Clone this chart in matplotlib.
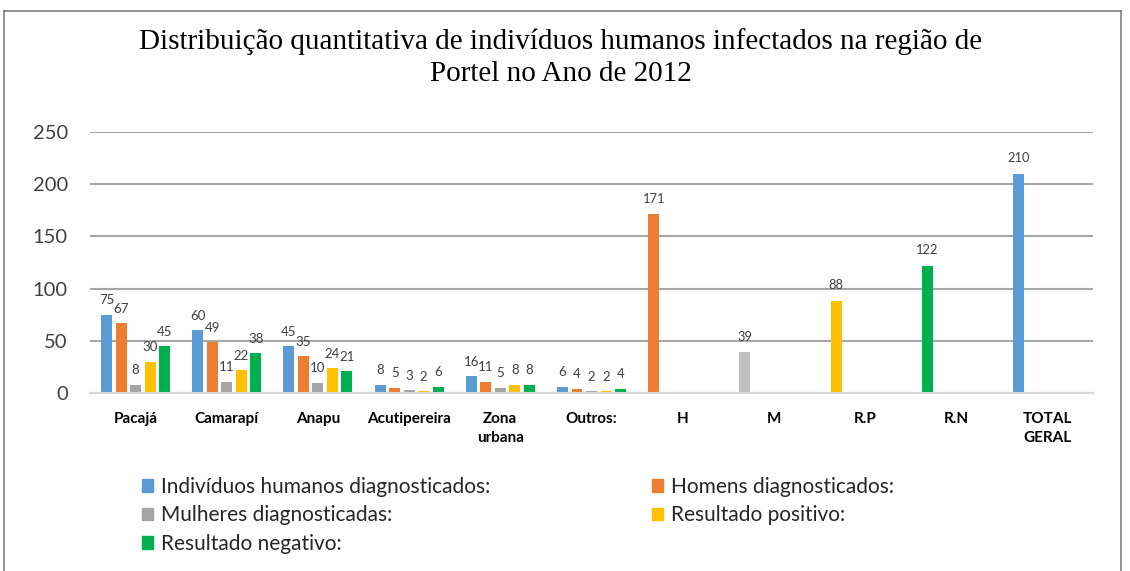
import matplotlib
matplotlib.use("Agg")
import matplotlib.pyplot as plt
from matplotlib.patches import Patch
from matplotlib.lines import Line2D
import numpy as np

title = "Distribuição quantitativa de indivíduos humanos infectados na região de\nPortel no Ano de 2012"

group_cats = ["Pacajá", "Camarapí", "Anapu", "Acutipereira", "Zona\nurbana", "Outros:"]
summary_cats = ["H", "M", "R.P", "R.N", "TOTAL\nGERAL"]

series_names = ["Indivíduos humanos diagnosticados:", "Homens diagnosticados:",
                "Mulheres diagnosticadas:", "Resultado positivo:", "Resultado negativo:"]
individuos = [75, 60, 45, 8, 16, 6]
homens = [67, 49, 35, 5, 11, 4]
mulheres = [8, 11, 10, 3, 5, 2]
positivo = [30, 22, 24, 2, 8, 2]
negativo = [45, 38, 21, 6, 8, 4]
summary_values = [171, 39, 88, 122, 210]

series_colors = ["#5B9BD5", "#ED7D31", "#A5A5A5", "#FFC000", "#00B050"]
summary_colors = ["#ED7D31", "#BFBFBF", "#FFC000", "#00B050", "#5B9BD5"]

W, H = 1130, 571
fig = plt.figure(figsize=(W / 100, H / 100), dpi=100)
ax = fig.add_axes([90 / W, 1 - 393 / H, (1093 - 90) / W, (393 - 132) / H])

label_font = ["Lato", "DejaVu Sans"]

pitch = 0.159
width = 0.12
all_series = [individuos, homens, mulheres, positivo, negativo]
gx = np.arange(len(group_cats))
for k, (vals, col) in enumerate(zip(all_series, series_colors)):
    xs = gx + (k - 2) * pitch
    bars = ax.bar(xs, vals, width=width, color=col, zorder=3)
    for b, v in zip(bars, vals):
        ax.annotate(str(v), (b.get_x() + b.get_width() / 2, v), xytext=(0, 6),
                    textcoords="offset points", ha="center", va="bottom",
                    fontsize=9.5, color="#404040", family=label_font)

sx = np.arange(len(group_cats), len(group_cats) + len(summary_cats))
sbars = ax.bar(sx - 2 * pitch, summary_values, width=width, color=summary_colors, zorder=3)
for b, v in zip(sbars, summary_values):
    ax.annotate(str(v), (b.get_x() + b.get_width() / 2, v), xytext=(0, 7),
                textcoords="offset points", ha="center", va="bottom",
                fontsize=9.3, color="#404040", family=label_font)

ax.set_xlim(-0.5, len(group_cats) + len(summary_cats) - 0.5)
ax.set_ylim(0, 250)
ax.set_yticks([0, 50, 100, 150, 200, 250])
ax.yaxis.grid(True, color="#A6A6A6", linewidth=1.5, zorder=0)
ax.set_axisbelow(True)
for s in ["top", "right", "left"]:
    ax.spines[s].set_visible(False)
ax.spines["bottom"].set_color("#D9D9D9")
ax.spines["bottom"].set_linewidth(1.5)
ax.spines["bottom"].set_zorder(4)
ax.tick_params(axis="both", length=0)
ax.tick_params(axis="y", pad=16, labelsize=14.5, labelcolor="#404040")
for t in ax.get_yticklabels():
    t.set_family(label_font)
ax.set_xticks(np.concatenate([gx, sx]))
ax.set_xticklabels(group_cats + summary_cats, fontsize=11, fontweight="bold",
                   family=label_font, va="top", linespacing=1.45)
ax.tick_params(axis="x", pad=14)
ax.set_facecolor("none")

fig.text(561 / W, 1 - 58 / H, title, ha="center", va="center", fontsize=21,
         family=["Liberation Serif", "DejaVu Serif"], linespacing=1.3)

# chart border
border = dict(color="#7F7F7F", linewidth=1.2, transform=fig.transFigure)
fig.add_artist(Line2D([4 / W, 4 / W], [0, 1 - 11 / H], **border))
fig.add_artist(Line2D([4 / W, 1121 / W], [1 - 11 / H, 1 - 11 / H], **border))
fig.add_artist(Line2D([1121 / W, 1121 / W], [0, 1 - 11 / H], **border))

handles = [Patch(color=c, label=n) for c, n in zip(series_colors, series_names)]
leg_kw = dict(frameon=False, handlelength=0.55, handleheight=0.55,
              handletextpad=0.35, labelspacing=0.4, borderaxespad=0, borderpad=0,
              prop={"family": label_font, "size": 15}, labelcolor="#262626")
l1 = fig.legend([handles[0], handles[2], handles[4]], [series_names[0], series_names[2], series_names[4]],
                loc="upper left", bbox_to_anchor=(142 / W, 1 - 477 / H), **leg_kw)
l2 = fig.legend([handles[1], handles[3]], [series_names[1], series_names[3]],
                loc="upper left", bbox_to_anchor=(652 / W, 1 - 477 / H), **leg_kw)

fig.savefig("out.png", dpi=100)
